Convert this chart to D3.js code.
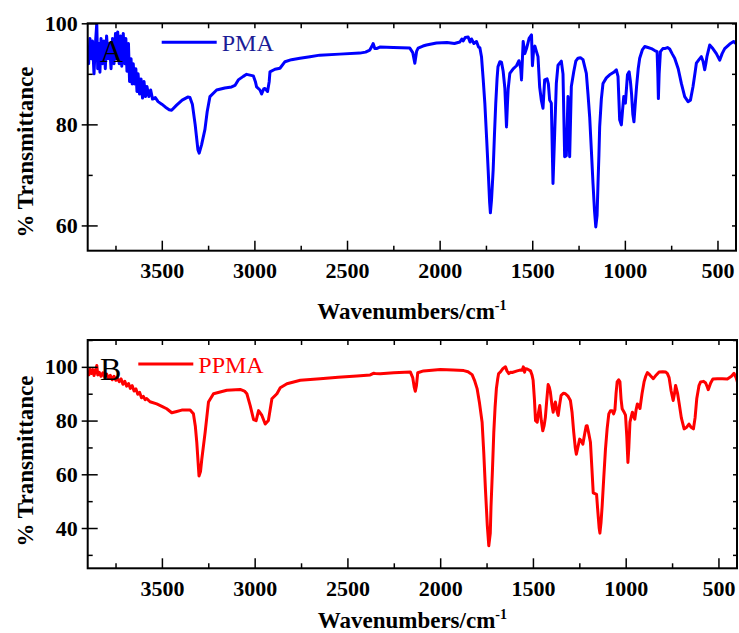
<!DOCTYPE html>
<html>
<head>
<meta charset="utf-8">
<script src="https://cdn.jsdelivr.net/npm/d3@7"></script>
<style>
  body { margin: 0; background: #fff; }
  text { font-family: "Liberation Serif", "Times New Roman", serif; }
</style>
</head>
<body>
<div id="chart"></div>
<script>
// Spectra data: [wavenumber (cm-1), % transmittance]
var pmaSpectrum = [
  [3900,95.5],[3895,92],[3888,97],[3880,93],[3874,96.5],[3866,90],[3860,95],[3851,100],[3846,91],[3840,96],
  [3834,90.3],[3828,97],[3820,92],[3812,96.5],[3805,91],[3798,97.5],[3790,93],[3782,96],[3774,91],[3766,97],
  [3758,92],[3750,98],[3744,93],[3738,98.3],[3730,92],[3722,97.5],[3716,91.5],[3708,98],[3700,92],[3694,97],
  [3688,90.5],[3680,96],[3674,88.5],[3666,93],[3660,88],[3654,92],[3648,88],[3640,91],[3634,86.5],[3628,90],
  [3620,86],[3612,89],[3604,85.2],[3596,88.5],[3588,85.5],[3580,87.5],[3570,85.5],[3560,86.8],[3550,85],
  [3535,85.3],[3520,84.5],[3500,84],[3480,83.4],[3460,82.9],[3447,82.8],[3420,83.8],[3390,84.8],[3360,85.4],
  [3348,85.3],[3335,84],[3320,80],[3305,75],[3298,74.3],[3285,76],[3267,79],[3255,82.5],[3240,85.5],[3204,86.8],
  [3160,87.2],[3123,87.4],[3105,87.7],[3087,88.8],[3060,89.5],[3042,89.9],[3006,89.6],[2995,88.5],[2988,87.4],
  [2970,86.8],[2961,86],[2950,87],[2943,87.1],[2929,86.5],[2920,88.5],[2916,90.4],[2889,90.9],[2862,91.1],
  [2835,92.4],[2800,92.8],[2754,93.1],[2700,93.4],[2647,93.7],[2540,93.9],[2431,94.1],[2400,94.3],[2377,94.7],
  [2365,95.5],[2359,96],[2350,95],[2341,95],[2323,95.3],[2250,95.2],[2161,95.1],[2145,94.2],[2134,92.1],
  [2124,94.5],[2116,95.1],[2090,95.5],[2071,95.7],[2017,96.1],[1960,96.2],[1920,96],[1891,96.3],[1880,96.9],
  [1873,96.5],[1862,97.2],[1846,97.3],[1836,96.3],[1828,96.9],[1815,96],[1801,96.4],[1790,95.3],[1783,95.2],
  [1774,93.4],[1765,89],[1756,84.2],[1746,77],[1738,71],[1730,64.5],[1726,62.5],[1720,65],[1711,71],[1704,78],
  [1697,84.2],[1690,89],[1685,91.4],[1675,92.4],[1666,92.3],[1657,90.5],[1648,87.2],[1643,83],[1639,79.5],
  [1634,84],[1630,87],[1621,90.1],[1603,91],[1585,91.6],[1572,92.6],[1562,91],[1558,88.8],[1553,93],[1549,96.4],
  [1540,94],[1531,95],[1524,96],[1517,97],[1504,97.7],[1499,91.6],[1492,95],[1486,95.5],[1478,94.5],[1469,93.4],
  [1460,87.4],[1451,84.8],[1442,83.2],[1433,88.8],[1420,89],[1413,88],[1406,84.8],[1397,84.2],[1388,68.3],
  [1379,78.2],[1370,88.1],[1361,91.7],[1343,92.5],[1334,90],[1325,73.6],[1316,73.8],[1307,85.5],[1298,73.6],
  [1289,87.5],[1276,90.4],[1265,92.5],[1253,93.1],[1240,93.2],[1226,92.8],[1208,90.1],[1199,86],[1190,81.5],
  [1181,75],[1172,68.3],[1164,63],[1157,59.7],[1150,62],[1145,68.3],[1140,74],[1136,79.5],[1127,85],[1118,88.1],
  [1100,89.2],[1082,89.8],[1060,90.3],[1046,90.8],[1037,89.5],[1028,80.9],[1019,79.9],[1012,83],[1006,85.5],
  [997,84.2],[986,89.8],[977,90.4],[970,88.5],[964,86.1],[957,82],[951,80.5],[944,84],[937,87.4],[928,91],
  [920,93.1],[905,94.8],[893,95.4],[875,95.2],[857,95],[839,94.6],[826,94.4],[822,90],[819,85.1],[815,90],
  [808,94.4],[795,95],[785,95],[770,95.2],[758,94.9],[745,94],[731,93.1],[712,91],[695,88.1],[677,85.5],
  [659,84.5],[646,84.8],[632,87.5],[620,90.5],[614,92.1],[600,92.8],[587,93.4],[578,92.5],[569,90.8],[563,92],
  [557,93.4],[542,95.7],[525,95],[506,94],[488,92.7],[475,94],[461,95],[434,95.9],[413,96.4],[400,96]
];

var ppmaSpectrum = [
  [3900,98.5],[3894,97],[3888,99.2],[3880,97.5],[3872,99],[3866,96.8],[3858,98.5],[3851,100.5],[3846,97],
  [3838,98],[3828,96.5],[3818,97.8],[3808,96.2],[3798,97.3],[3788,95.8],[3778,96.8],[3768,95.2],[3758,96.5],
  [3748,95],[3740,95.8],[3730,94.5],[3720,95.5],[3710,93.5],[3700,94.6],[3690,92.8],[3680,93.8],[3670,92],
  [3660,93],[3650,91],[3640,91.8],[3630,89.8],[3620,90.5],[3610,88.5],[3600,89],[3590,87.8],[3582,88.2],
  [3564,87],[3528,86.2],[3500,85.3],[3474,84.4],[3447,82.9],[3420,83.4],[3393,83.9],[3348,83.9],[3330,82.5],
  [3320,78],[3312,71.9],[3300,59.4],[3292,61],[3285,65.6],[3267,75.6],[3249,86.9],[3222,90],[3150,91.3],
  [3078,91.6],[3055,91],[3042,90],[3024,85.6],[3006,80.4],[2992,80],[2979,83.7],[2961,81.9],[2943,78.7],
  [2926,80],[2907,88.1],[2880,90],[2862,92.2],[2826,93.7],[2754,95],[2647,95.6],[2550,96.1],[2449,96.6],
  [2377,97],[2360,97.6],[2350,97.5],[2323,97.4],[2250,97.8],[2161,98.1],[2148,96],[2140,92.5],[2134,90.9],
  [2128,93],[2121,97.8],[2090,98.5],[1999,99],[1930,98.8],[1873,98.6],[1850,98.2],[1828,97.1],[1815,95],
  [1801,91.9],[1788,86.5],[1774,79.4],[1765,68],[1756,54.4],[1746,41],[1738,33.4],[1730,38],[1726,48],
  [1718,62],[1711,75.6],[1704,85],[1697,91.9],[1690,95.5],[1685,97.5],[1675,98.1],[1661,99.4],[1648,100],
  [1640,98.5],[1630,97.5],[1620,98],[1612,97.9],[1585,98.5],[1570,98.8],[1558,98.7],[1552,100],[1549,99.6],
  [1545,98],[1540,99.3],[1531,99.2],[1513,98.5],[1505,97],[1499,95],[1492,88],[1486,80],[1477,79.4],
  [1470,83],[1463,85.6],[1455,80],[1447,76.2],[1440,78],[1433,81.2],[1425,88],[1418,93.4],[1412,92.5],
  [1406,90.6],[1398,86],[1391,83.1],[1385,85.5],[1379,86.9],[1372,84],[1364,81.9],[1356,86],[1348,89.4],
  [1335,90.2],[1325,90],[1310,89],[1298,87.5],[1289,83],[1280,75.6],[1272,70],[1266,67.5],[1258,70],
  [1248,73.1],[1240,72.5],[1231,71.2],[1220,75.5],[1213,78],[1208,78.1],[1200,75.5],[1190,71.9],[1182,62],
  [1175,53.1],[1166,52.8],[1157,52.5],[1150,46],[1143,40],[1139,38.1],[1133,42],[1127,48.1],[1118,59],
  [1109,69.4],[1100,77],[1091,82.5],[1082,83.7],[1073,83.7],[1065,82.5],[1058,84],[1052,90],[1046,94.4],
  [1038,95.2],[1031,94.4],[1025,88],[1019,84.4],[1010,83.3],[1001,82],[994,74],[988,64.4],[983,70],
  [977,79.4],[970,81.5],[964,83.1],[957,81.5],[951,80.5],[944,84],[937,86.2],[930,85.5],[923,84.5],
  [912,90],[901,94.4],[892,96.5],[883,97.9],[870,97],[851,95.6],[835,97],[820,98.1],[800,98.2],[784,98.1],
  [775,97.5],[766,96],[755,91],[744,87.5],[737,90],[731,93.1],[720,90],[712,86.5],[700,81],[685,76.9],
  [672,77.5],[659,78.7],[647,77.5],[635,76.9],[626,81],[617,88.1],[605,93],[596,94.4],[580,94.6],[569,94],
  [560,92.5],[555,91.5],[542,94],[530,95.5],[506,95.6],[480,95.6],[452,95.5],[430,96.5],[416,97.6],
  [405,96],[395,93.7]
];

var xTicks = [3500, 3000, 2500, 2000, 1500, 1000, 500];
var xMinorTicks = [3750, 3250, 2750, 2250, 1750, 1250, 750];
var pmaYTicks = [60, 80, 100];
var pmaYMinor = [70, 90];
var ppmaYTicks = [40, 60, 80, 100];
var ppmaYMinor = [30, 50, 70, 90, 110];

var svgWidth = 739;
var svgHeight = 633;

var svg = d3.select("#chart")
  .append("svg")
  .attr("width", svgWidth)
  .attr("height", svgHeight);

function drawPanel(cfg) {
  var x = d3.scaleLinear().domain([3900, 400]).range([cfg.left, cfg.right]);
  var y = d3.scaleLinear().domain(cfg.yDomain).range([cfg.bottom, cfg.top]);
  var g = svg.append("g");

  // clip so the trace stays inside the frame
  g.append("clipPath").attr("id", cfg.id + "-clip")
    .append("rect")
    .attr("x", cfg.left).attr("y", cfg.top)
    .attr("width", cfg.right - cfg.left).attr("height", cfg.bottom - cfg.top);

  var line = d3.line()
    .x(d => x(d[0]))
    .y(d => y(d[1]));

  g.append("path")
    .datum(cfg.data)
    .attr("clip-path", "url(#" + cfg.id + "-clip)")
    .attr("fill", "none")
    .attr("stroke", cfg.color)
    .attr("stroke-width", 3)
    .attr("stroke-linejoin", "round")
    .attr("d", line);

  // bottom axis: labels + inward ticks
  g.append("g")
    .attr("transform", `translate(0, ${cfg.bottom})`)
    .call(d3.axisBottom(x).tickValues(xTicks).tickSize(-10).tickPadding(12).tickFormat(d3.format("d")))
    .call(a => a.select(".domain").remove())
    .call(a => a.selectAll("text")
      .attr("font-size", 22).attr("font-weight", "bold"));

  g.append("g")
    .attr("transform", `translate(0, ${cfg.bottom})`)
    .call(d3.axisBottom(x).tickValues(xMinorTicks).tickSize(-5).tickFormat(""))
    .call(a => a.select(".domain").remove());

  // top axis: short inward ticks
  g.append("g")
    .attr("transform", `translate(0, ${cfg.top})`)
    .call(d3.axisTop(x).tickValues(xTicks.concat(xMinorTicks)).tickSize(-5).tickFormat(""))
    .call(a => a.select(".domain").remove());

  // left axis: labels, major ticks cross the frame
  g.append("g")
    .attr("transform", `translate(${cfg.left}, 0)`)
    .call(d3.axisLeft(y).tickValues(cfg.yTicks).tickSize(6).tickPadding(4).tickFormat(d3.format("d")))
    .call(a => a.select(".domain").remove())
    .call(a => a.selectAll("text")
      .attr("font-size", 22).attr("font-weight", "bold"));

  g.append("g")
    .attr("transform", `translate(${cfg.left}, 0)`)
    .call(d3.axisLeft(y).tickValues(cfg.yTicks).tickSize(-10).tickFormat(""))
    .call(a => a.select(".domain").remove());

  g.append("g")
    .attr("transform", `translate(${cfg.left}, 0)`)
    .call(d3.axisLeft(y).tickValues(cfg.yMinor).tickSize(-5).tickFormat(""))
    .call(a => a.select(".domain").remove());

  // right axis: short inward ticks
  g.append("g")
    .attr("transform", `translate(${cfg.right}, 0)`)
    .call(d3.axisRight(y).tickValues(cfg.yTicks.concat(cfg.yMinor)).tickSize(-4).tickFormat(""))
    .call(a => a.select(".domain").remove());

  g.selectAll(".tick line").attr("stroke", "#000").attr("stroke-width", 1.5);

  // frame
  g.append("rect")
    .attr("x", cfg.left).attr("y", cfg.top)
    .attr("width", cfg.right - cfg.left).attr("height", cfg.bottom - cfg.top)
    .attr("fill", "none")
    .attr("stroke", "#000")
    .attr("stroke-width", 2);

  // axis titles
  var xt = g.append("text")
    .attr("x", (cfg.left + cfg.right) / 2)
    .attr("y", cfg.xTitleY)
    .attr("text-anchor", "middle")
    .attr("font-size", 23)
    .attr("font-weight", "bold");
  xt.append("tspan").text("Wavenumbers/cm");
  xt.append("tspan").attr("dy", -9).attr("font-size", 14).text("-1");

  g.append("text")
    .attr("transform", `translate(33, ${cfg.yTitleY}) rotate(-90)`)
    .attr("text-anchor", "middle")
    .attr("font-size", 23)
    .attr("font-weight", "bold")
    .text("% Transmittance");

  // panel letter
  g.append("text")
    .attr("x", 100).attr("y", cfg.letterY)
    .attr("font-size", 32)
    .text(cfg.letter);

  // legend
  g.append("line")
    .attr("x1", cfg.legendX).attr("x2", cfg.legendX + 55)
    .attr("y1", cfg.legendY).attr("y2", cfg.legendY)
    .attr("stroke", cfg.color).attr("stroke-width", 3);

  g.append("text")
    .attr("x", cfg.legendX + 60).attr("y", cfg.legendY + 9)
    .attr("font-size", 24)
    .attr("fill", cfg.textColor)
    .text(cfg.name);
}

drawPanel({
  id: "pma", data: pmaSpectrum, name: "PMA", letter: "A",
  color: "#0000ff", textColor: "#1c1c96",
  left: 87.7, right: 736, top: 23.3, bottom: 250.7,
  yDomain: [55, 100], yTicks: pmaYTicks, yMinor: pmaYMinor,
  xTitleY: 319, yTitleY: 152, letterY: 62,
  legendX: 161.7, legendY: 42.3
});

drawPanel({
  id: "ppma", data: ppmaSpectrum, name: "PPMA", letter: "B",
  color: "#ff0000", textColor: "#ff0000",
  left: 87.7, right: 737, top: 340, bottom: 568.3,
  yDomain: [25, 110], yTicks: ppmaYTicks, yMinor: ppmaYMinor,
  xTitleY: 628, yTitleY: 461, letterY: 380,
  legendX: 138.3, legendY: 364
});
</script>
</body>
</html>
